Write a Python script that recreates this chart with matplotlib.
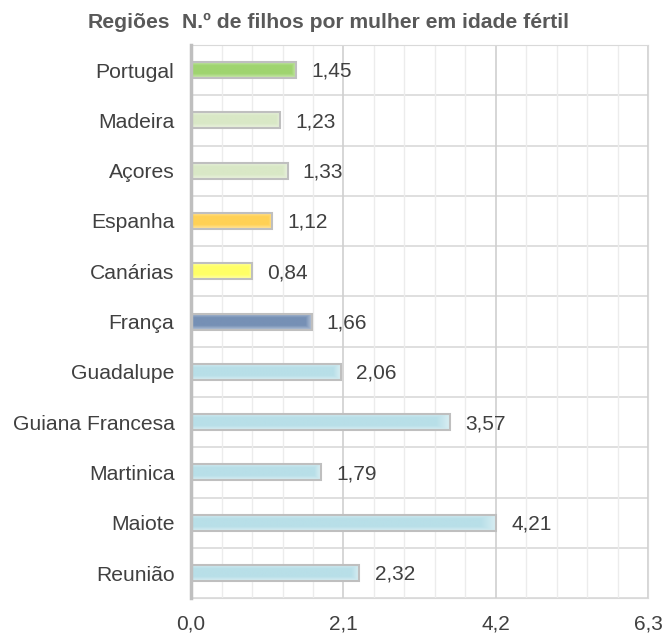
import numpy as np
from matplotlib import pyplot as plt
from matplotlib.colors import to_rgb
from matplotlib.ticker import MultipleLocator, FuncFormatter

regioes = ["Portugal", "Madeira", "Açores", "Espanha", "Canárias", "França",
           "Guadalupe", "Guiana Francesa", "Martinica", "Maiote", "Reunião"]
filhos = [1.45, 1.23, 1.33, 1.12, 0.84, 1.66, 2.06, 3.57, 1.79, 4.21, 2.32]
cores = ["#9fd46f", "#d9e8c6", "#d9e8c6", "#ffd155", "#ffff66", "#7690b5",
         "#b8dfe8", "#b8dfe8", "#b8dfe8", "#b8dfe8", "#b8dfe8"]

plt.rcParams["font.family"] = ["Liberation Sans", "DejaVu Sans"]
fig = plt.figure(figsize=(6.66, 6.33), dpi=100)
ax = fig.add_axes([0.287, 0.055, 0.686, 0.874])

y = np.arange(len(regioes))
bars = ax.barh(y, filhos, height=0.32, color="none", edgecolor="#bfbfbf", linewidth=1.5, zorder=4)

# soft glow fill inside each bar
for b, c in zip(bars, cores):
    x0, y0, w, h = b.get_x(), b.get_y(), b.get_width(), b.get_height()
    rgb = np.array(to_rgb(c))
    ty = np.linspace(-1, 1, 20)
    tx = np.linspace(0, 1, 200)
    fy = np.clip(np.abs(ty) - 0.5, 0, None) / 0.5
    fx = np.clip((tx - 0.95) / 0.05, 0, None)
    f = np.maximum(fy[:, None], fx[None, :]) * 0.45
    img = rgb[None, None, :] * (1 - f[..., None]) + f[..., None]
    ax.imshow(img, extent=(x0, x0 + w, y0 + h, y0), aspect="auto", zorder=3,
              interpolation="bilinear")

for yi, v in zip(y, filhos):
    ax.annotate("{:.2f}".format(v).replace(".", ","), (v, yi), textcoords="offset points",
                xytext=(11, -1), ha="left", va="center", fontsize=15, color="#404040")

ax.set_ylim(len(regioes) - 0.5, -0.5)
ax.set_xlim(0, 6.3)
ax.set_yticks(y)
ax.set_yticklabels(regioes, fontsize=15.2, color="#404040")
ax.xaxis.set_major_locator(MultipleLocator(2.1))
ax.xaxis.set_minor_locator(MultipleLocator(0.42))
ax.xaxis.set_major_formatter(FuncFormatter(lambda v, p: "{:.1f}".format(v).replace(".", ",")))
ax.tick_params(axis="x", labelsize=15, colors="#404040", length=0, pad=12, which="both")
ax.tick_params(axis="y", length=0, pad=12)

ax.grid(axis="x", which="major", color="#d0d0d0", linewidth=1.2, zorder=0)
ax.grid(axis="x", which="minor", color="#ececec", linewidth=1.0, zorder=0)
for b in np.arange(len(regioes) + 1) - 0.5:
    ax.axhline(b, color="#d9d9d9", linewidth=1.2, zorder=1)

for s in ["top", "right", "bottom"]:
    ax.spines[s].set_color("#d9d9d9")
ax.spines["left"].set_color("#bfbfbf")
ax.spines["left"].set_linewidth(2.5)
ax.spines["left"].set_zorder(5)

fig.text(0.132, 0.965, "Regiões", fontsize=15.2, fontweight="bold", color="#595959", va="center")
fig.text(0.273, 0.965, "N.º de filhos por mulher em idade fértil", fontsize=15.2,
         fontweight="bold", color="#595959", va="center")

fig.savefig("out.png", dpi=100)
